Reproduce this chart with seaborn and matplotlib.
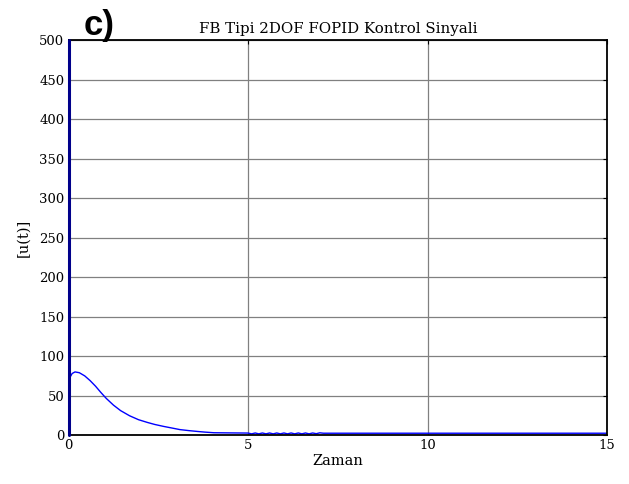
import numpy as np
import pandas as pd
import seaborn as sns
import matplotlib
matplotlib.use("Agg")
from matplotlib import pyplot as plt

# control signal (first two points = spike at t=0)
zaman = [0.0, 0.0, 0.01, 0.05, 0.1, 0.18, 0.3, 0.45, 0.6, 0.75, 0.9, 1.05,
         1.25, 1.45, 1.7, 1.95, 2.2, 2.4, 2.65, 2.9, 3.1, 3.35, 3.6, 3.8,
         4.05, 4.5, 5.0, 5.1, 5.2, 5.3, 5.4, 5.5, 5.6, 5.7, 5.8, 5.9, 6.0,
         6.1, 6.2, 6.3, 6.4, 6.5, 6.6, 6.7, 6.8, 6.9, 7.0, 7.1, 8.0, 10.0,
         12.0, 15.0]
u = [0.0, 1000.0, 68.0, 74.0, 78.0, 80.0, 79.0, 75.0, 69.0, 62.0, 54.0, 46.5,
     38.0, 31.0, 24.5, 19.5, 16.0, 13.5, 11.0, 8.8, 7.0, 5.7, 4.6, 3.8,
     3.0, 2.8, 2.6, 1.6, 2.7, 1.6, 2.7, 1.6, 2.7, 1.6, 2.7, 1.6, 2.7,
     1.6, 2.7, 1.6, 2.7, 1.6, 2.7, 1.6, 2.7, 1.8, 2.9, 2.4, 2.4, 2.4,
     2.4, 2.4]

x_ticks = [0, 5, 10, 15]
y_ticks = list(range(0, 501, 50))

df = pd.DataFrame({"Zaman": zaman, "u": u})

sns.set_style("white")
plt.rcParams["font.family"] = ["DejaVu Serif"]
plt.rcParams["text.color"] = "black"
plt.rcParams["axes.labelcolor"] = "black"

fig = plt.figure(figsize=(6.29, 4.84), dpi=100)
ax = fig.add_axes([0.109, 0.101, 0.856, 0.816])

sns.lineplot(data=df, x="Zaman", y="u", ax=ax, sort=False, estimator=None,
             color="#0000ff", linewidth=1.0)
# the t=0 spike sits on the left edge, drawn darker there
ax.plot([0, 0], [0, 500], color="#00008b", linewidth=2.2, clip_on=False, zorder=5)

ax.set_xlim(0, 15)
ax.set_ylim(0, 500)
ax.set_xticks(x_ticks)
ax.set_yticks(y_ticks)
ax.grid(True, color="#808080", linewidth=0.9)
ax.tick_params(direction="in", length=3, top=True, right=True, labelsize=9.5,
               colors="black", pad=3)
for s in ax.spines.values():
    s.set_color("black")
    s.set_linewidth(1.3)

ax.set_title("FB Tipi 2DOF FOPID Kontrol Sinyali", fontsize=10.8, pad=5,
             color="black")
ax.set_xlabel("Zaman", fontsize=10.5, labelpad=1)
ax.set_ylabel("[u(t)]", fontsize=10.5, labelpad=6)

fig.text(0.133, 0.948, "c)", fontsize=25, fontweight="bold", color="black",
         family="Liberation Sans", ha="left", va="center")

fig.savefig("out.png", dpi=100)
